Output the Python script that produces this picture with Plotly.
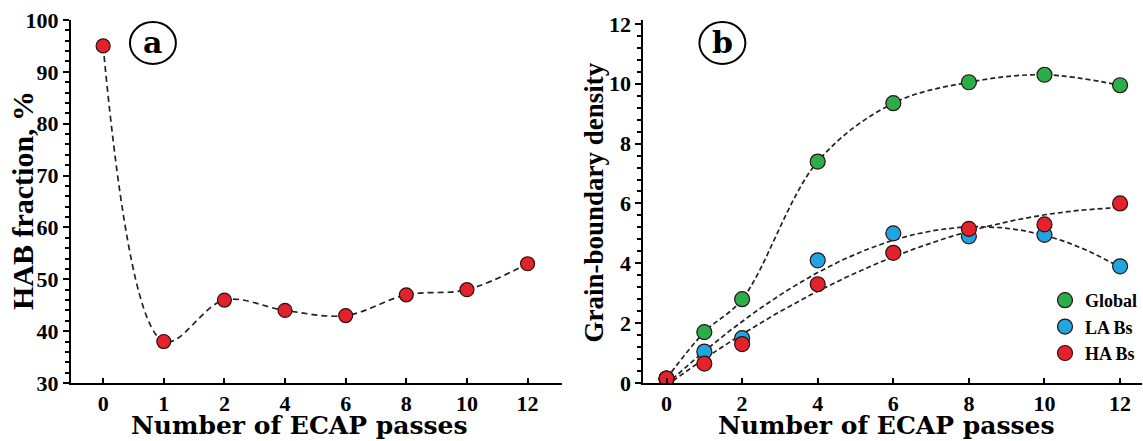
import numpy as np
import plotly.graph_objects as go

# ---------------- data ----------------
passes_a = ["0", "1", "2", "4", "6", "8", "10", "12"]
hab_fraction = [95, 38, 46, 44, 43, 47, 48, 53]

passes_b = [0, 1, 2, 4, 6, 8, 10, 12]
global_density = [0.15, 1.7, 2.8, 7.4, 9.35, 10.05, 10.3, 9.95]
la_density = [0.15, 1.05, 1.5, 4.1, 5.0, 4.9, 4.95, 3.9]
ha_density = [0.15, 0.65, 1.3, 3.3, 4.35, 5.15, 5.3, 6.0]

ya_ticks = [30, 40, 50, 60, 70, 80, 90, 100]
yb_ticks = [0, 2, 4, 6, 8, 10, 12]
xb_ticks = [0, 2, 4, 6, 8, 10, 12]

# ---------------- layout geometry ----------------
W, H = 1143, 441
ML, MR, MT, MB = 71, 0, 20, 58
PW, PH = W - ML - MR, H - MT - MB


def px(X):
    return (X - ML) / PW


def py(Y):
    return (H - MB - Y) / PH


SERIF = "Liberation Serif"
SLAB = "DejaVu Serif"
RED, GREEN, BLUE = "#e3222b", "#2aae4a", "#1fa6e0"
EDGE = "#2a1010"
LINE = "#222222"

fig = go.Figure()

# ----- panel a -----
fig.add_trace(go.Scatter(x=passes_a, y=hab_fraction, mode="lines",
                         line=dict(shape="spline", smoothing=1.0, color=LINE, width=1.7, dash="6px,4px"),
                         xaxis="x", yaxis="y", showlegend=False, hoverinfo="skip"))
fig.add_trace(go.Scatter(x=passes_a, y=hab_fraction, mode="markers",
                         marker=dict(size=14, color=RED, line=dict(color=EDGE, width=1.2)),
                         xaxis="x", yaxis="y", showlegend=False))

# ----- panel b trend curves -----
xd = np.linspace(0, 12, 241)
la_fit = np.polyval(np.polyfit(passes_b, la_density, 3), xd)
ha_fit = np.polyval(np.polyfit(passes_b, ha_density, 3), xd)

fig.add_trace(go.Scatter(x=passes_b, y=global_density, mode="lines",
                         line=dict(shape="spline", smoothing=1.0, color=LINE, width=1.7, dash="5px,3px"),
                         xaxis="x2", yaxis="y2", showlegend=False, hoverinfo="skip"))
for fit in (la_fit, ha_fit):
    fig.add_trace(go.Scatter(x=xd, y=fit, mode="lines",
                             line=dict(color=LINE, width=1.7, dash="5px,3px"),
                             xaxis="x2", yaxis="y2", showlegend=False, hoverinfo="skip"))

for name, vals, col in [("Global", global_density, GREEN), ("LA Bs", la_density, BLUE), ("HA Bs", ha_density, RED)]:
    fig.add_trace(go.Scatter(x=passes_b, y=vals, mode="markers", name=name,
                             marker=dict(size=15, color=col, line=dict(color=EDGE, width=1.2)),
                             xaxis="x2", yaxis="y2"))

# ---------------- axes ----------------
tickfont = dict(family=SERIF, size=22, color="black", weight="bold")
base = dict(showline=True, linecolor="black", linewidth=2, tickwidth=2, tickcolor="black",
            showgrid=False, zeroline=False, tickfont=tickfont)

xa_range = [-0.53, 7.56]
xb_range = [-0.61, 12.58]
ya_range = [30, 100]
yb_range = [0, 12.13]

dom_a = [0, px(562)]
dom_b = [px(644), 1]

overlay = dict(tickwidth=2, tickcolor="black", showticklabels=False, showgrid=False,
               zeroline=False, showline=False)

fig.update_layout(
    # main x axes carry labels with inside ticks; overlays add the outside half of each tick
    xaxis=dict(base, domain=dom_a, type="category", categoryarray=passes_a, range=xa_range,
               anchor="y", ticks="inside", ticklen=5),
    yaxis=dict(base, domain=[0, 1], range=ya_range, tickvals=ya_ticks, anchor="x",
               ticks="outside", ticklen=6,
               minor=dict(dtick=2, ticks="outside", ticklen=4, tickwidth=1.5, tickcolor="black")),
    xaxis2=dict(base, domain=dom_b, range=xb_range, tickvals=xb_ticks, anchor="y2",
                ticks="inside", ticklen=5),
    yaxis2=dict(base, domain=[0, 1], range=yb_range, tickvals=yb_ticks, anchor="x2",
                ticks="outside", ticklen=6,
                minor=dict(dtick=0.4, ticks="outside", ticklen=4, tickwidth=1.5, tickcolor="black")),
    xaxis3=dict(overlay, domain=dom_a, range=xa_range, tickvals=list(range(len(passes_a))),
                overlaying="x", anchor="y", side="bottom", ticks="outside", ticklen=5),
    yaxis3=dict(overlay, range=ya_range, tickvals=ya_ticks, overlaying="y", anchor="x", side="left",
                ticks="inside", ticklen=5,
                minor=dict(dtick=2, ticks="inside", ticklen=4, tickwidth=1.5, tickcolor="black")),
    xaxis4=dict(overlay, domain=dom_b, range=xb_range, tickvals=xb_ticks, overlaying="x2",
                anchor="y2", side="bottom", ticks="outside", ticklen=5),
    yaxis4=dict(overlay, range=yb_range, tickvals=yb_ticks, overlaying="y2", anchor="x2", side="left",
                ticks="inside", ticklen=5,
                minor=dict(dtick=0.4, ticks="inside", ticklen=4, tickwidth=1.5, tickcolor="black")),
    width=W, height=H,
    margin=dict(l=ML, r=MR, t=MT, b=MB),
    paper_bgcolor="white", plot_bgcolor="white",
    legend=dict(x=px(1046), y=py(282), xanchor="left", yanchor="top",
                font=dict(family=SERIF, size=18, color="black", weight="bold"),
                bgcolor="rgba(0,0,0,0)", itemwidth=30, tracegroupgap=0),
    showlegend=True,
)

# ---------------- titles & labels ----------------
ann = []
for cx in (300, 887):
    ann.append(dict(text="<b>Number of ECAP passes</b>", x=px(cx), y=py(441), xref="paper", yref="paper",
                    showarrow=False, font=dict(family=SLAB, size=25, color="black"),
                    xanchor="center", yanchor="bottom", borderpad=0))
ann.append(dict(text="<b>HAB fraction, %</b>", x=px(22), y=py(201), xref="paper", yref="paper",
                showarrow=False, textangle=-90, font=dict(family=SERIF, size=30, color="black"),
                xanchor="center", yanchor="middle"))
ann.append(dict(text="<b>Grain-boundary density</b>", x=px(594), y=py(203), xref="paper", yref="paper",
                showarrow=False, textangle=-90, font=dict(family=SERIF, size=27, color="black"),
                xanchor="center", yanchor="middle"))

shapes = []
for lab, cx, cy in [("a", 153, 43), ("b", 723, 43)]:
    shapes.append(dict(type="circle", xref="paper", yref="paper",
                       x0=px(cx - 23), x1=px(cx + 23), y0=py(cy + 21), y1=py(cy - 21),
                       line=dict(color="black", width=2), fillcolor="white", layer="above"))
    ann.append(dict(text="<b>" + lab + "</b>", x=px(cx), y=py(cy), xref="paper", yref="paper",
                    showarrow=False, font=dict(family=SLAB, size=30, color="black"),
                    xanchor="center", yanchor="middle"))

fig.update_layout(annotations=ann, shapes=shapes)

fig.write_html("out.html")
